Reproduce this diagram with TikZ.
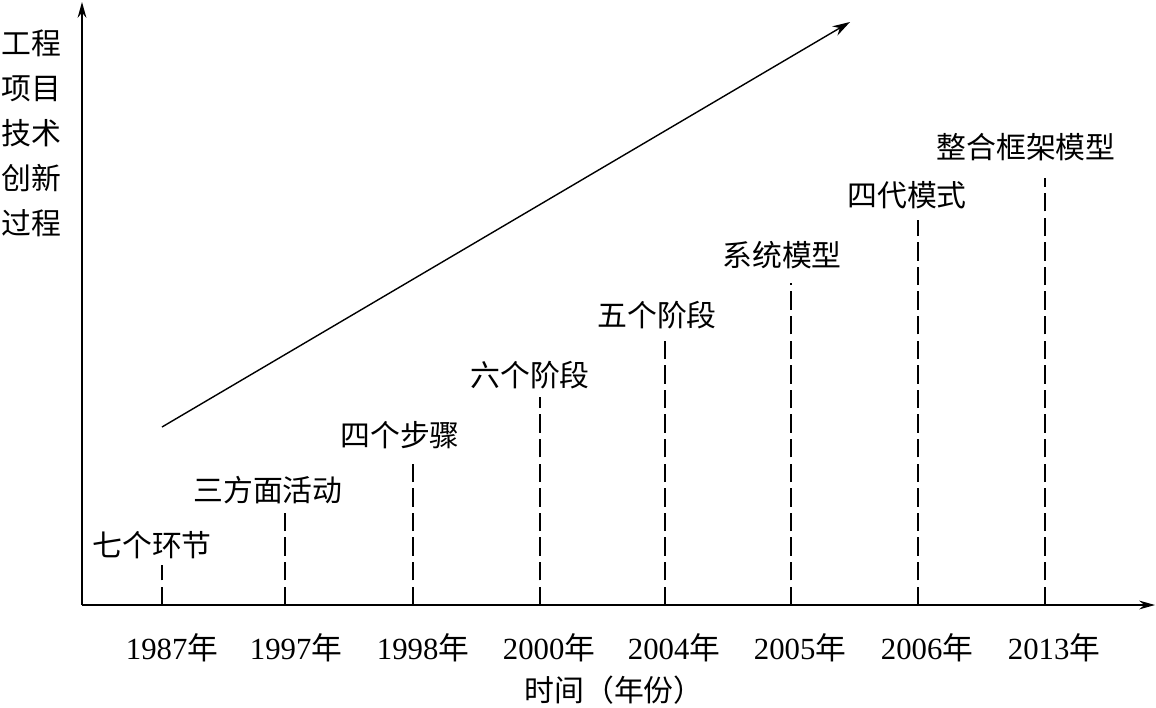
\documentclass[tikz,border=0pt]{standalone}
\usepackage{fontspec}
\setmainfont{Liberation Serif}
\newfontfamily\cjk{Noto Sans CJK SC}
\usepackage{tikz}
\usetikzlibrary{positioning,arrows.meta}

\begin{document}
\begin{tikzpicture}[
  x=0.02cm, y=-0.02cm,
  font=\fontsize{17.5}{20}\selectfont,
  axis/.style={-{Stealth[length=9pt,width=5pt]}, line width=0.8pt},
  trend/.style={-{Stealth[length=10pt,width=6pt]}, line width=0.8pt},
  guide/.style={line width=0.8pt, dash pattern=on 10.5pt off 3.5pt},
  stage/.style={font=\fontsize{17}{20}\selectfont\cjk, inner sep=0pt},
  year/.style={inner sep=0pt},
]
\useasboundingbox (0,0) rectangle (1156,707);

% Axes.
\coordinate (origin) at (82,605);
\coordinate (ytip)   at (82,2);
\coordinate (xtip)   at (1155,605);
\draw[axis] (origin) -- (ytip);
\draw[axis] (origin) -- (xtip);

% Y axis title, one line per two characters.
\node[stage, align=left, font=\fontsize{17}{25.6}\selectfont\cjk] (ytitle) at (31,133)
  {工程\\项目\\技术\\创新\\过程};

% Rising trend.
\coordinate (trendA) at (162,427);
\coordinate (trendB) at (850,22);
\draw[trend] (trendA) -- (trendB);

% Guide lines from the time axis up to each model.
\coordinate (b1987) at (162,605);  \coordinate (t1987) at (162,565);
\coordinate (b1997) at (285,605);  \coordinate (t1997) at (285,508);
\coordinate (b1998) at (413,605);  \coordinate (t1998) at (413,460);
\coordinate (b2000) at (540,605);  \coordinate (t2000) at (540,397);
\coordinate (b2004) at (665,605);  \coordinate (t2004) at (665,340);
\coordinate (b2005) at (791,605);  \coordinate (t2005) at (791,283);
\coordinate (b2006) at (918,605);  \coordinate (t2006) at (918,220);
\coordinate (b2013) at (1045,605); \coordinate (t2013) at (1045,178);
\draw[guide] (b1987) -- (t1987);
\draw[guide] (b1997) -- (t1997);
\draw[guide] (b1998) -- (t1998);
\draw[guide] (b2000) -- (t2000);
\draw[guide] (b2004) -- (t2004);
\draw[guide] (b2005) -- (t2005);
\draw[guide] (b2006) -- (t2006);
\draw[guide] (b2013) -- (t2013);

% Model names above the guide lines.
\node[stage] (s1987) at (152,545)  {七个环节};
\node[stage] (s1997) at (268,490)  {三方面活动};
\node[stage] (s1998) at (400,435)  {四个步骤};
\node[stage] (s2000) at (530,375)  {六个阶段};
\node[stage] (s2004) at (657,315)  {五个阶段};
\node[stage] (s2005) at (782,255)  {系统模型};
\node[stage] (s2006) at (907,195)  {四代模式};
\node[stage] (s2013) at (1026,147) {整合框架模型};

% Years below the axis.
\node[year] (y1987) at (172,648)  {1987{\cjk 年}};
\node[year] (y1997) at (296,648)  {1997{\cjk 年}};
\node[year] (y1998) at (423,648)  {1998{\cjk 年}};
\node[year] (y2000) at (549,648)  {2000{\cjk 年}};
\node[year] (y2004) at (674,648)  {2004{\cjk 年}};
\node[year] (y2005) at (800,648)  {2005{\cjk 年}};
\node[year] (y2006) at (927,648)  {2006{\cjk 年}};
\node[year] (y2013) at (1054,648) {2013{\cjk 年}};

\node[stage] (xtitle) at (614,690) {时间（年份）};

\end{tikzpicture}
\end{document}
